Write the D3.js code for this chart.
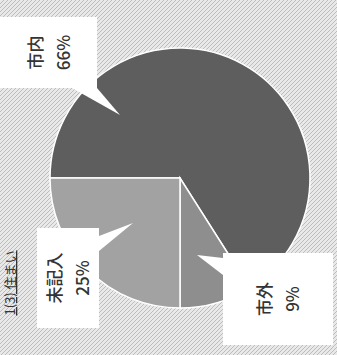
<!DOCTYPE html>
<html>
<head>
<meta charset="utf-8">
<script src="https://cdn.jsdelivr.net/npm/d3@7"></script>
<style>
  html, body { margin: 0; padding: 0; background: #fff; }
  svg { display: block; }
</style>
</head>
<body>
<svg id="chart" width="337" height="355"></svg>
<script>
// data
const categories = ["市内", "市外", "未記入"];
const shares = [66, 9, 25];
const sliceColors = ["#5e5e5e", "#8e8e8e", "#a2a2a2"];
const title = "1(3) 住まい";

// label callouts (in the unrotated frame): box + pointer tip
const callouts = [
  { box: [267, 0, 71, 97],  base: [[267, 72], [267, 97]],  tip: [240, 120] },
  { box: [10, 223, 92, 110], base: [[80, 223], [97, 223]], tip: [100, 197] },
  { box: [27, 37, 100, 62],  base: [[104, 99], [119, 99]], tip: [132, 133] }
];

const W = 355, H = 337; // chart frame before rotation
const svg = d3.select("#chart");

// textured background
const defs = svg.append("defs");
const pat = defs.append("pattern")
  .attr("id", "bg")
  .attr("width", 4).attr("height", 4)
  .attr("patternUnits", "userSpaceOnUse");
pat.append("rect").attr("width", 4).attr("height", 4).attr("fill", "#e9e9e9");
pat.append("path").attr("d", "M0,4 L4,0 M-1,1 L1,-1 M3,5 L5,3")
  .attr("stroke", "#bcbcbc").attr("stroke-width", 1);

svg.append("rect").attr("width", 337).attr("height", 355).attr("fill", "url(#bg)");

// the whole chart is turned a quarter turn counter-clockwise
const g = svg.append("g").attr("transform", `translate(0,${W}) rotate(-90)`);

const cx = 177, cy = 180, r = 130;
const pie = d3.pie().sort(null).value(d => d)(shares);
const arc = d3.arc().innerRadius(0).outerRadius(r);

g.append("g")
  .attr("transform", `translate(${cx},${cy})`)
  .selectAll("path")
  .data(pie)
  .join("path")
  .attr("d", arc)
  .attr("fill", (d, i) => sliceColors[i])
  .attr("stroke", "#fff")
  .attr("stroke-width", 1.5);

// callout boxes
const labels = g.append("g");
callouts.forEach((c, i) => {
  const [x, y, w, h] = c.box;
  labels.append("rect")
    .attr("x", x).attr("y", y).attr("width", w).attr("height", h)
    .attr("fill", "#fff");
  labels.append("path")
    .attr("d", `M${c.base[0][0]},${c.base[0][1]} L${c.tip[0]},${c.tip[1]} L${c.base[1][0]},${c.base[1][1]} Z`)
    .attr("fill", "#fff");

  const t = labels.append("text")
    .attr("x", x + w / 2)
    .attr("text-anchor", "middle")
    .attr("font-family", "'Noto Sans CJK JP', 'Noto Sans', sans-serif")
    .attr("font-size", 17)
    .attr("font-weight", 500)
    .attr("fill", "#333");
  t.append("tspan").attr("x", x + w / 2).attr("y", y + h / 2 - 7).text(categories[i]);
  t.append("tspan").attr("x", x + w / 2).attr("y", y + h / 2 + 21).text(shares[i] + "%");
});

// title
g.append("text")
  .attr("x", 72).attr("y", 15)
  .attr("text-anchor", "middle")
  .attr("font-family", "'Noto Sans CJK JP', sans-serif")
  .attr("font-size", 13)
  .attr("fill", "#333")
  .attr("text-decoration", "underline")
  .text(title);
</script>
</body>
</html>
